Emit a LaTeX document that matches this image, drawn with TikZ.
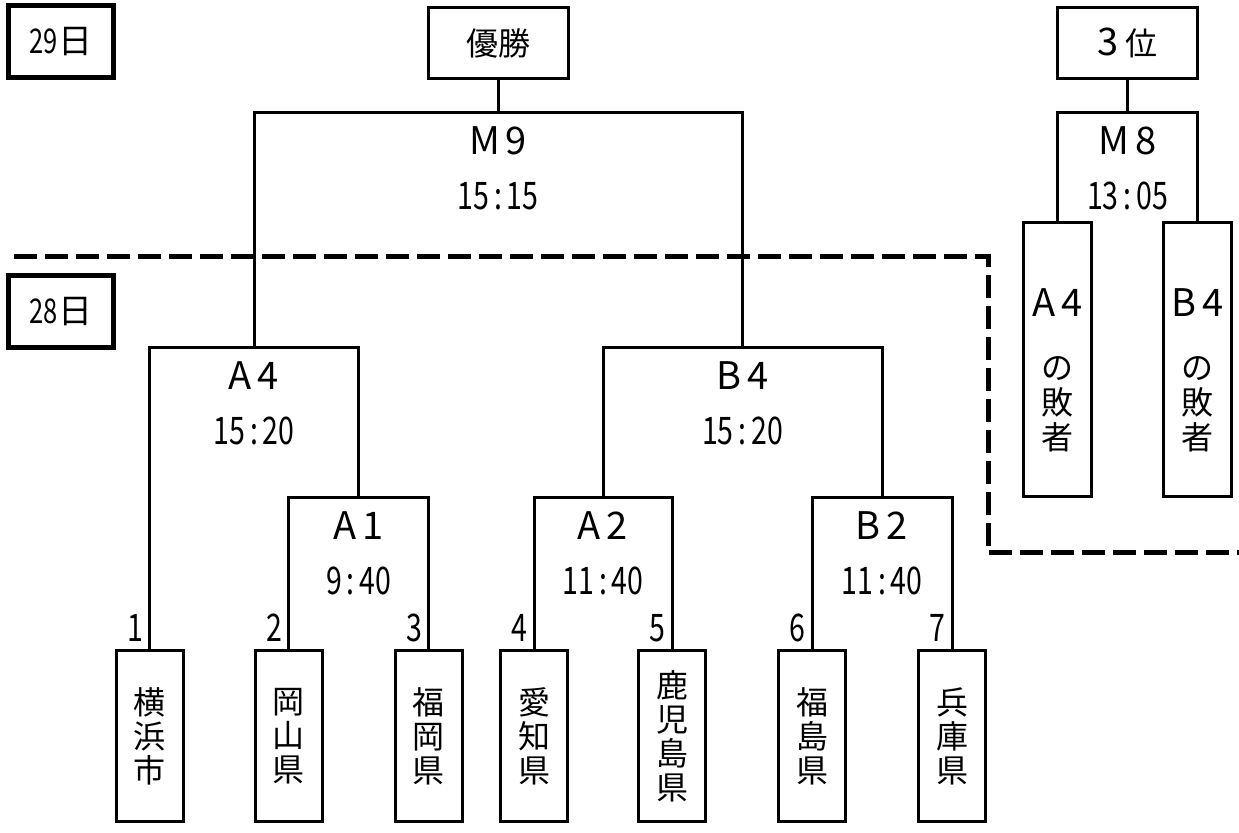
\documentclass[tikz,border=0pt]{standalone}
\usepackage{fontspec}
\setmainfont{Noto Sans CJK JP}
\usepackage{graphicx}
\usepackage{tikz}
\usetikzlibrary{positioning}
\tikzstyle{team} = [rectangle, draw=black, line width=1.5pt, minimum width=33.5pt, minimum height=85.5pt, inner sep=0pt, align=center, font=\fontsize{16}{17}\selectfont]
\tikzstyle{goal} = [rectangle, draw=black, line width=1.5pt, minimum width=70pt, minimum height=35.5pt, inner sep=0pt, font=\fontsize{16}{17}\selectfont]
\tikzstyle{loser} = [rectangle, draw=black, line width=1.5pt, minimum width=34pt, minimum height=137pt, inner sep=0pt]
\tikzstyle{losetext} = [inner sep=0pt, align=center, font=\fontsize{16}{17.5}\selectfont]
\tikzstyle{daybox} = [rectangle, draw=black, line width=2.5pt, minimum width=52.5pt, minimum height=36pt, inner sep=0pt, font=\fontsize{17}{17}\selectfont]
\tikzstyle{game} = [inner sep=0pt, font=\fontsize{19}{19}\selectfont]
\tikzstyle{clock} = [inner sep=0pt, font=\fontsize{19}{19}\selectfont]
\tikzstyle{seedno} = [inner sep=0pt, anchor=south east, xshift=-3pt, yshift=3.5pt, font=\fontsize{19}{19}\selectfont]
\tikzstyle{wire} = [line width=1.5pt]
\tikzstyle{dayline} = [line width=2.5pt, dash pattern=on 11.5pt off 4pt]
\newcommand{\nrw}[1]{\scalebox{0.75}[1]{#1}}
\newcommand{\hm}[2]{\nrw{#1\,:\,#2}}
\newcommand{\gm}[2]{#1\kern3pt#2}

\begin{document}
\begin{tikzpicture}[x=0.5pt, y=-0.5pt]
\useasboundingbox (0,0) rectangle (1239,833);

\node (d29) [daybox] at (61,42) {\nrw{29}日};
\node (d28) [daybox] at (61,311.5) {\nrw{28}日};

\node (win) [goal] at (498,43) {優勝};
\node (third) [goal] at (1127.5,43) {{\fontsize{19}{19}\selectfont 3}\kern3pt位};

\coordinate (m9) at (498,113);
\coordinate (m8) at (1127.5,113);
\coordinate (a4) at (254,348);
\coordinate (b4) at (742.5,348);
\coordinate (a1) at (358.5,498);
\coordinate (a2) at (603,498);
\coordinate (b2) at (882,498);

\node (la4) [loser] at (1057.5,359.5) {};
\node (lb4) [loser] at (1197.5,359.5) {};
\node [losetext] at (1057.5,370) {{\fontsize{19}{19}\selectfont\gm{A}{4}}\\[14pt]の\\敗\\者};
\node [losetext] at (1197.5,370) {{\fontsize{19}{19}\selectfont\gm{B}{4}}\\[14pt]の\\敗\\者};

\node (t1) [team] at (149.5,736) {横\\浜\\市};
\node (t2) [team] at (288.5,736) {岡\\山\\県};
\node (t3) [team] at (428.5,736) {福\\岡\\県};
\node (t4) [team] at (534,736) {愛\\知\\県};
\node (t5) [team] at (672,736) {鹿\\児\\島\\県};
\node (t6) [team] at (812,736) {福\\島\\県};
\node (t7) [team] at (952,736) {兵\\庫\\県};

\node [seedno] at (t1.north) {\nrw{1}};
\node [seedno] at (t2.north) {\nrw{2}};
\node [seedno] at (t3.north) {\nrw{3}};
\node [seedno] at (t4.north) {\nrw{4}};
\node [seedno] at (t5.north) {\nrw{5}};
\node [seedno] at (t6.north) {\nrw{6}};
\node [seedno] at (t7.north) {\nrw{7}};

\draw [wire] (win) -- (m9);
\draw [wire] (a4) |- (m9) -| (b4);
\draw [wire] (third) -- (m8);
\draw [wire] (la4) |- (m8) -| (lb4);
\draw [wire] (t1) |- (a4) -| (a1);
\draw [wire] (t2) |- (a1) -| (t3);
\draw [wire] (a2) |- (b4) -| (b2);
\draw [wire] (t4) |- (a2) -| (t5);
\draw [wire] (t6) |- (b2) -| (t7);

\node [game] at (498,141) {\gm{M}{9}};
\node [clock] at (498,196) {\hm{15}{15}};
\node [game] at (1127.5,141) {\gm{M}{8}};
\node [clock] at (1127.5,196) {\hm{13}{05}};
\node [game] at (254,376) {\gm{A}{4}};
\node [clock] at (254,431) {\hm{15}{20}};
\node [game] at (742.5,376) {\gm{B}{4}};
\node [clock] at (742.5,431) {\hm{15}{20}};
\node [game] at (358.5,526) {\gm{A}{1}};
\node [clock] at (358.5,581) {\hm{9}{40}};
\node [game] at (603,526) {\gm{A}{2}};
\node [clock] at (603,581) {\hm{11}{40}};
\node [game] at (882,526) {\gm{B}{2}};
\node [clock] at (882,581) {\hm{11}{40}};

\draw [dayline] (14,257) -- (988,257) -- (988,553) -- (1239,553);
\end{tikzpicture}
\end{document}
